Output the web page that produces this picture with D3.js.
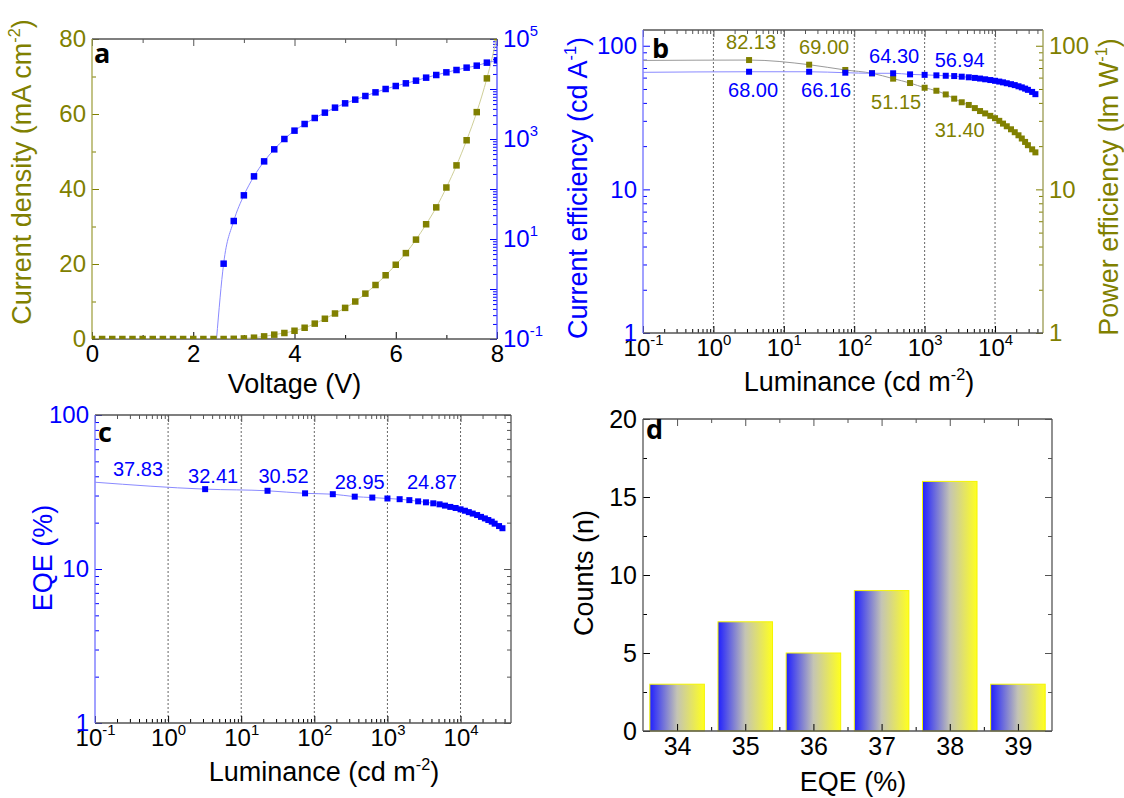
<!DOCTYPE html>
<html>
<head>
<meta charset="utf-8">
<script src="https://cdn.jsdelivr.net/npm/d3@7"></script>
<style>
  body { margin: 0; background: #fff; }
  svg text { font-family: "Liberation Sans", Arial, sans-serif; }
</style>
</head>
<body>
<svg id="fig" width="1124" height="798"></svg>
<script>
// ---- data ----
// panel a: J-V (olive) and L-V (blue)
const voltage = [0, 0.2, 0.4, 0.6, 0.8, 1.0, 1.2, 1.4, 1.6, 1.8, 2.0, 2.2, 2.4, 2.6, 2.8, 3.0, 3.2, 3.4, 3.6, 3.8,
                 4.0, 4.2, 4.4, 4.6, 4.8, 5.0, 5.2, 5.4, 5.6, 5.8, 6.0, 6.2, 6.4, 6.6, 6.8, 7.0, 7.2, 7.4, 7.6, 7.8, 8.0];
const currentDensity = [0, 0, 0, 0, 0, 0, 0, 0, 0, 0, 0, 0, 0, 0, 0.05, 0.15, 0.35, 0.7, 1.16, 1.6,
                        2.2, 3.0, 4.1, 5.4, 6.8, 8.3, 10.0, 12.1, 14.4, 17.0, 19.8, 22.9, 26.5, 30.6, 35.1, 40.4, 46.3, 53.0, 60.5, 69.5, 80.5];
// first entry = start of the fitted line (no marker)
const lumVoltage = [2.46, 2.6, 2.8, 3.0, 3.2, 3.4, 3.6, 3.8, 4.0, 4.2, 4.4, 4.6, 4.8, 5.0, 5.2, 5.4, 5.6, 5.8,
                    6.0, 6.2, 6.4, 6.6, 6.8, 7.0, 7.2, 7.4, 7.6, 7.8, 8.0];
const luminance = [0.1, 3.21, 22.9, 74.7, 179, 357, 621, 1000, 1469, 1995, 2630, 3365, 4236, 5166, 6124, 7244, 8570, 10000,
                   11480, 12980, 14680, 16860, 19050, 21530, 23990, 26730, 29290, 33650, 37430];
// panels b, c (same luminance points)
const currentEff = [65.3, 65.9, 65.9, 64.9, 64.3, 64.3, 63.2, 62.7, 62.2, 61.8, 61.5, 60.9, 60.3, 59.7, 59.1, 58.4, 57.7, 57.0,
                    56.3, 55.6, 54.8, 54.0, 53.2, 52.2, 51.3, 50.3, 49.3, 47.7, 46.0];
const powerEff = [79.0, 79.5, 73.8, 67.8, 64.3, 59.0, 55.0, 51.0, 48.6, 45.8, 42.8, 40.4, 38.7, 36.8, 35.1, 33.8, 32.5, 31.3,
                  30.0, 28.7, 27.5, 26.2, 25.0, 23.8, 22.6, 21.4, 20.3, 19.0, 18.1];
const eqe = [36.6, 33.0, 32.2, 31.0, 30.6, 29.5, 29.1, 28.7, 28.4, 28.0, 27.5, 27.1, 26.7, 26.3, 25.8, 25.3, 24.9, 24.4,
             23.9, 23.4, 22.9, 22.4, 21.8, 21.3, 20.8, 20.3, 19.7, 19.0, 18.4];
// annotations: text and the point index they belong to
const ceLabels = [["68.00", 1], ["66.16", 2], ["64.30", 5], ["56.94", 11]];
const peLabels = [["82.13", 1], ["69.00", 2], ["51.15", 5], ["31.40", 11]];
const eqeLabels = [["37.83", 0], ["32.41", 1], ["30.52", 2], ["28.95", 5], ["24.87", 11]];
// panel d histogram
const eqeBins = ["34", "35", "36", "37", "38", "39"];
const counts = [3, 7, 5, 9, 16, 3];

const BLUE = "#0000ff", OLIVE = "#808000";
const svg = d3.select("#fig");
const defs = svg.append("defs");

function powLabel(sel) {
  sel.each(function (d) {
    const t = d3.select(this);
    const e = Math.round(Math.log10(d));
    t.text(null);
    t.append("tspan").text("10");
    t.append("tspan").attr("dy", "-0.75em").attr("font-size", "0.62em").text(e);
  });
}

function logMinors(lo, hi) {
  const out = [];
  for (let d = Math.floor(Math.log10(lo)); d <= Math.ceil(Math.log10(hi)); d++) {
    for (let k = 2; k <= 9; k++) {
      const v = k * Math.pow(10, d);
      if (v > lo && v < hi) out.push(v);
    }
  }
  return out;
}

// axis with inward ticks; returns the label texts of the major ticks
function axis(gen, scale, major, minor, pos, color, fmt, fsize) {
  const g = svg.append("g").attr("transform", pos);
  g.call(gen(scale).tickValues(minor).tickSize(-4).tickFormat(""));
  const gm = svg.append("g").attr("transform", pos);
  gm.call(gen(scale).tickValues(major).tickSize(-7).tickPadding(6).tickFormat(fmt || ""));
  [g, gm].forEach(s => {
    s.select(".domain").remove();
    s.selectAll("line").attr("stroke", color);
  });
  g.selectAll("text").remove();
  if (!fmt) gm.selectAll("text").remove();
  return gm.selectAll(".tick text").attr("fill", color).attr("font-size", fsize || 24)
    .attr("font-family", "Liberation Sans, Arial, sans-serif");
}

function frame(x0, x1, y0, y1, c) {
  const g = svg.append("g").attr("fill", "none").attr("stroke-width", 1.3);
  g.append("line").attr("x1", x0).attr("x2", x1).attr("y1", y0).attr("y2", y0).attr("stroke", c[0]);
  g.append("line").attr("x1", x1).attr("x2", x1).attr("y1", y0).attr("y2", y1).attr("stroke", c[1]);
  g.append("line").attr("x1", x0).attr("x2", x1).attr("y1", y1).attr("y2", y1).attr("stroke", c[2]);
  g.append("line").attr("x1", x0).attr("x2", x0).attr("y1", y0).attr("y2", y1).attr("stroke", c[3]);
}

function clip(id, x0, x1, y0, y1) {
  defs.append("clipPath").attr("id", id).append("rect")
    .attr("x", x0).attr("y", y0).attr("width", x1 - x0).attr("height", y1 - y0);
  return svg.append("g").attr("clip-path", `url(#${id})`);
}

function title(text, x, y, color, rot, supText) {
  const t = svg.append("text").attr("font-size", 27).attr("fill", color).attr("text-anchor", "middle")
    .attr("transform", `translate(${x},${y})` + (rot ? " rotate(-90)" : ""))
    .attr("dy", "0.35em");
  t.append("tspan").text(text);
  if (supText) {
    t.append("tspan").attr("dy", "-0.7em").attr("font-size", "0.6em").text(supText);
    t.append("tspan").attr("dy", "0.42em").text(")");
  }
}

function letter(l, x, y) {
  svg.append("text").attr("x", x).attr("y", y).attr("font-size", 27).attr("font-weight", 700)
    .style("font-family", "'Open Sans', 'Liberation Sans', sans-serif").text(l);
}

function squares(g, xs, ys, xScale, yScale, color, size, skipFirst) {
  const pts = xs.map((v, i) => [v, ys[i]]).filter((p, i) => !(skipFirst && i === 0));
  g.selectAll(null).data(pts).enter().append("rect")
    .attr("x", d => xScale(d[0]) - size / 2).attr("y", d => yScale(d[1]) - size / 2)
    .attr("width", size).attr("height", size).attr("fill", color);
}

function path(g, xs, ys, xScale, yScale, color) {
  const line = d3.line().x(d => xScale(d[0])).y(d => yScale(d[1])).curve(d3.curveMonotoneX);
  g.append("path").attr("d", line(xs.map((v, i) => [v, ys[i]])))
    .attr("fill", "none").attr("stroke", color).attr("stroke-width", 1);
}

// ================= panel a =================
(function () {
  const L = 92, R = 497, T = 39, B = 339;
  const x = d3.scaleLinear().domain([0, 8]).range([L, R]);
  const yJ = d3.scaleLinear().domain([0, 80]).range([B, T]);
  const yL = d3.scaleLog().domain([0.1, 1e5]).range([B, T]);

  axis(d3.axisBottom, x, [0, 2, 4, 6, 8], [1, 3, 5, 7], `translate(0,${B})`, "#000", d3.format("d"));
  axis(d3.axisTop, x, [0, 2, 4, 6, 8], [1, 3, 5, 7], `translate(0,${T})`, "#555");
  axis(d3.axisLeft, yJ, [0, 20, 40, 60, 80], [10, 30, 50, 70], `translate(${L},0)`, OLIVE, d3.format("d"));
  const rt = axis(d3.axisRight, yL, [0.1, 1, 10, 100, 1e3, 1e4, 1e5], logMinors(0.1, 1e5), `translate(${R},0)`, BLUE, d => d);
  rt.filter(d => [0.1, 10, 1e3, 1e5].indexOf(d) < 0).remove();
  rt.filter(d => [0.1, 10, 1e3, 1e5].indexOf(d) >= 0).call(powLabel);
  frame(L, R, T, B, ["#555", "#4d4dff", "#555", "#a3a345"]);

  const g = clip("clipA", L, R, T, B);
  path(g, voltage, currentDensity, x, yJ, "#cfcf98");
  path(g, lumVoltage, luminance, x, yL, "#8a8aff");
  squares(g, voltage, currentDensity, x, yJ, OLIVE, 6.5, false);
  squares(g, lumVoltage, luminance, x, yL, BLUE, 6.5, true);

  title("Current density (mA cm", 22, 172, OLIVE, true, "-2");
  title("Voltage (V)", (L + R) / 2, 384, "#000", false);
  letter("a", 94, 63);
})();

// ================= panel b =================
(function () {
  const L = 643, R = 1043, T = 30, B = 333;
  const x = d3.scaleLog().domain([0.1, 48000]).range([L, R]);
  const y = d3.scaleLog().domain([1, 128.7]).range([B, T]);
  const decades = [0.1, 1, 10, 100, 1000, 10000];

  // grid
  svg.append("g").selectAll(null).data([1, 10, 100, 1000, 10000]).enter().append("line")
    .attr("x1", d => x(d)).attr("x2", d => x(d)).attr("y1", T).attr("y2", B)
    .attr("stroke", "#555").attr("stroke-width", 0.9).attr("stroke-dasharray", "2,2");

  axis(d3.axisBottom, x, decades, logMinors(0.1, 48000), `translate(0,${B})`, "#000", d => d).call(powLabel);
  axis(d3.axisTop, x, decades, logMinors(0.1, 48000), `translate(0,${T})`, "#555");
  axis(d3.axisLeft, y, [1, 10, 100], logMinors(1, 128.7), `translate(${L},0)`, BLUE, d3.format("d"));
  axis(d3.axisRight, y, [1, 10, 100], logMinors(1, 128.7), `translate(${R},0)`, OLIVE, d3.format("d"));
  frame(L, R, T, B, ["#555", "#9a9a50", "#555", "#6f6fff"]);

  const g = clip("clipB", L, R, T, B);
  path(g, luminance, powerEff, x, y, "#9a9a9a");
  path(g, luminance, currentEff, x, y, "#8a8aff");
  squares(g, luminance, powerEff, x, y, OLIVE, 6, true);
  squares(g, luminance, currentEff, x, y, BLUE, 6, true);

  const lab = svg.append("g").attr("font-size", 20).attr("text-anchor", "middle");
  const ceOff = [[4, 25], [17, 25], [1, -10], [-2, -10]];
  const peOff = [[2, -11], [15, -11], [3, 30], [-2, 35]];
  ceLabels.forEach((l, k) => lab.append("text").attr("fill", BLUE)
    .attr("x", x(luminance[l[1]]) + ceOff[k][0]).attr("y", y(currentEff[l[1]]) + ceOff[k][1]).text(l[0]));
  peLabels.forEach((l, k) => lab.append("text").attr("fill", OLIVE)
    .attr("x", x(luminance[l[1]]) + peOff[k][0]).attr("y", y(powerEff[l[1]]) + peOff[k][1]).text(l[0]));

  title("Current efficiency (cd A", 578, 188, BLUE, true, "-1");
  title("Power efficiency (lm W", 1109, 187, OLIVE, true, "-1");
  title("Luminance (cd m", 859, 382, "#000", false, "-2");
  letter("b", 652, 58);
})();

// ================= panel c =================
(function () {
  const L = 95, R = 511, T = 415, B = 723;
  const x = d3.scaleLog().domain([0.1, 49000]).range([L, R]);
  const y = d3.scaleLog().domain([1, 100]).range([B, T]);
  const decades = [0.1, 1, 10, 100, 1000, 10000];

  svg.append("g").selectAll(null).data([1, 10, 100, 1000, 10000]).enter().append("line")
    .attr("x1", d => x(d)).attr("x2", d => x(d)).attr("y1", T).attr("y2", B)
    .attr("stroke", "#555").attr("stroke-width", 0.9).attr("stroke-dasharray", "2,2");

  axis(d3.axisBottom, x, decades, logMinors(0.1, 49000), `translate(0,${B})`, "#000", d => d).call(powLabel);
  axis(d3.axisTop, x, decades, logMinors(0.1, 49000), `translate(0,${T})`, "#555");
  axis(d3.axisLeft, y, [1, 10, 100], logMinors(1, 100), `translate(${L},0)`, BLUE, d3.format("d"));
  axis(d3.axisRight, y, [1, 10, 100], logMinors(1, 100), `translate(${R},0)`, "#555");
  frame(L, R, T, B, ["#555", "#555", "#555", "#6f6fff"]);

  const g = clip("clipC", L, R, T, B);
  path(g, luminance, eqe, x, y, "#8a8aff");
  squares(g, luminance, eqe, x, y, BLUE, 6, true);

  const off = [[43, -6], [8, -6], [16, -8], [5, -8], [6, -13]];
  const lab = svg.append("g").attr("font-size", 20).attr("text-anchor", "middle").attr("fill", BLUE);
  eqeLabels.forEach((l, k) => lab.append("text")
    .attr("x", x(luminance[l[1]]) + off[k][0]).attr("y", y(eqe[l[1]]) + off[k][1]).text(l[0]));

  title("EQE (%)", 43, 558, BLUE, true);
  title("Luminance (cd m", 324, 772, "#000", false, "-2");
  letter("c", 98, 442);
})();

// ================= panel d =================
(function () {
  const L = 643, R = 1052, T = 419, B = 731;
  const x = d3.scaleBand().domain(eqeBins).range([L, R]).paddingInner(0.2).paddingOuter(0.1);
  const y = d3.scaleLinear().domain([0, 20]).range([B, T]);

  const grad = defs.append("linearGradient").attr("id", "barGrad");
  grad.append("stop").attr("offset", "0%").attr("stop-color", "#2020ff");
  grad.append("stop").attr("offset", "50%").attr("stop-color", "#c4c4b4");
  grad.append("stop").attr("offset", "100%").attr("stop-color", "#ffff20");

  svg.append("g").selectAll("rect").data(counts).enter().append("rect")
    .attr("x", (d, i) => x(eqeBins[i])).attr("width", x.bandwidth())
    .attr("y", d => y(d)).attr("height", d => B - y(d))
    .attr("fill", "url(#barGrad)").attr("stroke", "#f4f400").attr("stroke-width", 1);

  const centers = eqeBins.map(b => x(b) + x.bandwidth() / 2);
  const bounds = eqeBins.slice(1).map(b => x(b) - x.step() * 0.1);
  const xp = d3.scaleLinear().domain([L, R]).range([L, R]);
  axis(d3.axisBottom, xp, centers, bounds, `translate(0,${B})`, "#000", (d, i) => eqeBins[i], 25);
  axis(d3.axisTop, xp, centers, bounds, `translate(0,${T})`, "#555");
  axis(d3.axisLeft, y, [0, 5, 10, 15, 20], [2.5, 7.5, 12.5, 17.5], `translate(${L},0)`, "#000", d3.format("d"), 25);
  axis(d3.axisRight, y, [0, 5, 10, 15, 20], [2.5, 7.5, 12.5, 17.5], `translate(${R},0)`, "#555");
  frame(L, R, T, B, ["#555", "#555", "#555", "#555"]);

  title("Counts (n)", 584, 573, "#000", true);
  title("EQE (%)", 853, 782, "#000", false);
  letter("d", 646, 439);
})();
</script>
</body>
</html>
